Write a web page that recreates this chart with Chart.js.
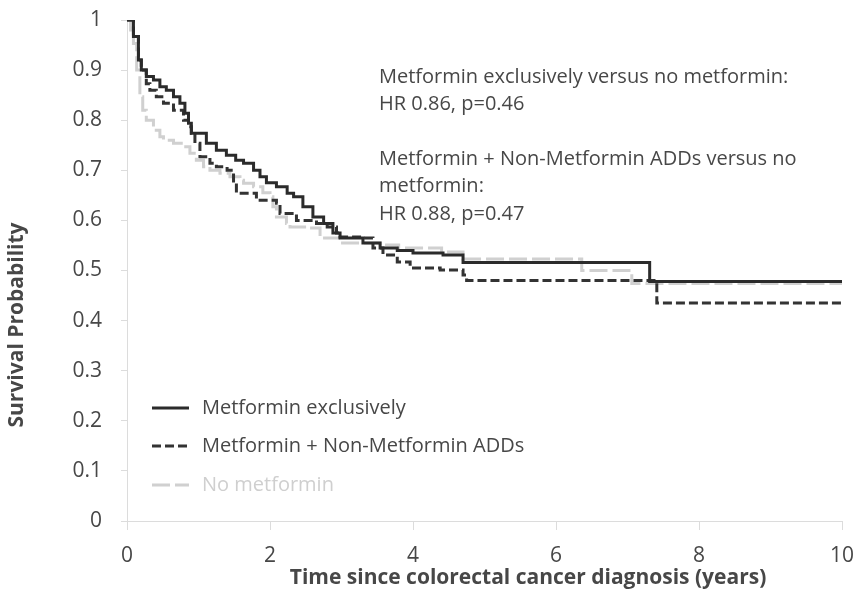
<!DOCTYPE html>
<html>
<head>
<meta charset="utf-8">
<script src="https://cdn.jsdelivr.net/npm/chart.js@4/dist/chart.umd.min.js"></script>
<style>
  html, body { margin: 0; padding: 0; background: #fff; }
  #wrap { width: 855px; height: 591px; }
</style>
</head>
<body>
<div id="wrap"><canvas id="kmChart" width="855" height="591"></canvas></div>
<script>
// Kaplan-Meier steps (years, survival probability)
const exclTimes = [0, 0.09, 0.16, 0.2, 0.27, 0.37, 0.46, 0.55, 0.65, 0.74, 0.81, 0.86, 0.9, 1.11, 1.25, 1.39, 1.52, 1.63, 1.77, 1.86, 1.95, 2.09, 2.24, 2.33, 2.46, 2.6, 2.75, 2.88, 2.98, 3.3, 3.54, 3.78, 4.0, 4.42, 4.7, 7.31, 10];
const exclSurv  = [1, 0.967, 0.92, 0.90, 0.887, 0.88, 0.867, 0.86, 0.847, 0.834, 0.814, 0.794, 0.774, 0.754, 0.74, 0.73, 0.72, 0.714, 0.70, 0.687, 0.675, 0.667, 0.654, 0.647, 0.627, 0.607, 0.594, 0.575, 0.565, 0.555, 0.545, 0.54, 0.535, 0.531, 0.516, 0.478, 0.478];

const comboTimes = [0, 0.09, 0.16, 0.2, 0.27, 0.32, 0.41, 0.51, 0.65, 0.79, 0.86, 0.9, 0.95, 1.02, 1.16, 1.25, 1.4, 1.49, 1.53, 1.81, 2.09, 2.14, 2.37, 2.65, 2.8, 2.93, 2.98, 3.3, 3.44, 3.58, 3.78, 3.96, 4.38, 4.7, 4.75, 7.41, 10];
const comboSurv  = [1, 0.967, 0.92, 0.90, 0.873, 0.86, 0.847, 0.834, 0.82, 0.80, 0.787, 0.774, 0.754, 0.727, 0.714, 0.707, 0.70, 0.674, 0.654, 0.64, 0.634, 0.614, 0.60, 0.594, 0.587, 0.575, 0.567, 0.565, 0.545, 0.531, 0.517, 0.505, 0.501, 0.491, 0.48, 0.435, 0.435];

const noneTimes = [0, 0.05, 0.09, 0.135, 0.18, 0.22, 0.27, 0.37, 0.46, 0.51, 0.65, 0.79, 0.88, 0.97, 1.07, 1.16, 1.3, 1.44, 1.58, 1.63, 1.77, 1.9, 2.0, 2.04, 2.09, 2.23, 2.28, 2.51, 2.7, 2.98, 3.54, 3.8, 4.4, 4.7, 6.36, 7.06, 10];
const noneSurv  = [1, 0.98, 0.953, 0.90, 0.847, 0.82, 0.80, 0.78, 0.767, 0.76, 0.754, 0.747, 0.734, 0.72, 0.707, 0.70, 0.694, 0.687, 0.68, 0.674, 0.667, 0.655, 0.647, 0.627, 0.607, 0.594, 0.587, 0.585, 0.565, 0.555, 0.551, 0.545, 0.537, 0.523, 0.50, 0.474, 0.474];

const seriesNames = ['Metformin exclusively', 'Metformin + Non-Metformin ADDs', 'No metformin'];
const xTicks = [0, 2, 4, 6, 8, 10];
const yTicks = [0, 0.1, 0.2, 0.3, 0.4, 0.5, 0.6, 0.7, 0.8, 0.9, 1];

const annotationLines = [
    'Metformin exclusively versus no metformin:',
    'HR 0.86, p=0.46',
    '',
    'Metformin + Non-Metformin ADDs versus no',
    'metformin:',
    'HR 0.88, p=0.47'
];

const FONT = '"Open Sans", Lato, sans-serif';
const TEXT = '#474747';

function toPoints(times, surv) {
    return times.map(function (t, i) { return { x: t, y: surv[i] }; });
}

// annotation text, legend and axis titles drawn on top of the chart
const overlayPlugin = {
    id: 'overlay',
    afterDraw: function (chart) {
        const c = chart.ctx;
        c.save();

        // HR annotation
        c.font = '20px ' + FONT;
        c.fillStyle = TEXT;
        c.textAlign = 'left';
        c.textBaseline = 'alphabetic';
        let y = 83;
        annotationLines.forEach(function (line) {
            if (line) c.fillText(line, 379, y);
            y += 27.3;
        });

        // legend
        const rows = [408, 446, 485];
        const textColors = [TEXT, TEXT, '#cfcfcf'];
        chart.data.datasets.forEach(function (ds, i) {
            c.strokeStyle = ds.borderColor;
            c.lineWidth = 3;
            c.setLineDash(ds.borderDash || []);
            c.beginPath();
            c.moveTo(152, rows[i]);
            c.lineTo(189, rows[i]);
            c.stroke();
            c.setLineDash([]);
            c.font = '20px ' + FONT;
            c.fillStyle = textColors[i];
            c.textBaseline = 'middle';
            c.fillText(ds.label, 202, rows[i]);
        });

        // axis titles
        c.font = 'bold 21px ' + FONT;
        c.fillStyle = TEXT;
        c.textAlign = 'center';
        c.textBaseline = 'middle';
        c.fillText('Time since colorectal cancer diagnosis (years)', 528, 578);
        c.translate(17, 325);
        c.rotate(-Math.PI / 2);
        c.fillText('Survival Probability', 0, 0);
        c.restore();
    }
};

document.addEventListener('DOMContentLoaded', function () {
    const ctx = document.getElementById('kmChart').getContext('2d');

    new Chart(ctx, {
        type: 'line',
        data: {
            datasets: [{
                label: seriesNames[0],
                data: toPoints(exclTimes, exclSurv),
                borderColor: '#2b2b2b',
                borderWidth: 3,
                stepped: true
            }, {
                label: seriesNames[1],
                data: toPoints(comboTimes, comboSurv),
                borderColor: '#333333',
                borderWidth: 3,
                borderDash: [9, 4],
                stepped: true
            }, {
                label: seriesNames[2],
                data: toPoints(noneTimes, noneSurv),
                borderColor: '#d0d0d0',
                borderWidth: 3,
                borderDash: [18, 5],
                stepped: true
            }]
        },
        options: {
            responsive: false,
            animation: false,
            devicePixelRatio: 1,
            layout: { padding: { top: 20, right: 13, left: 0, bottom: 0 } },
            elements: { point: { radius: 0 }, line: { fill: false } },
            plugins: {
                legend: { display: false },
                tooltip: { enabled: false }
            },
            scales: {
                x: {
                    type: 'linear',
                    min: 0,
                    max: 10,
                    afterBuildTicks: function (s) { s.ticks = xTicks.map(function (v) { return { value: v }; }); },
                    afterFit: function (s) { s.height = 70; s.paddingLeft = 0; s.paddingRight = 0; },
                    grid: { drawOnChartArea: false, drawTicks: true, tickLength: 9, color: '#dcdcdc' },
                    border: { display: true, color: '#dcdcdc' },
                    ticks: { color: TEXT, font: { family: FONT, size: 21 }, padding: 13, maxRotation: 0 }
                },
                y: {
                    min: 0,
                    max: 1,
                    afterBuildTicks: function (s) { s.ticks = yTicks.map(function (v) { return { value: v }; }); },
                    afterFit: function (s) { s.width = 127; s.paddingTop = 0; s.paddingBottom = 0; },
                    grid: { drawOnChartArea: false, drawTicks: true, tickLength: 6, color: '#dcdcdc' },
                    border: { display: true, color: '#dcdcdc' },
                    ticks: {
                        color: TEXT,
                        font: { family: FONT, size: 21 },
                        padding: 19,
                        callback: function (v) { return String(+v.toFixed(1)); }
                    }
                }
            }
        },
        plugins: [overlayPlugin]
    });
});
</script>
</body>
</html>
